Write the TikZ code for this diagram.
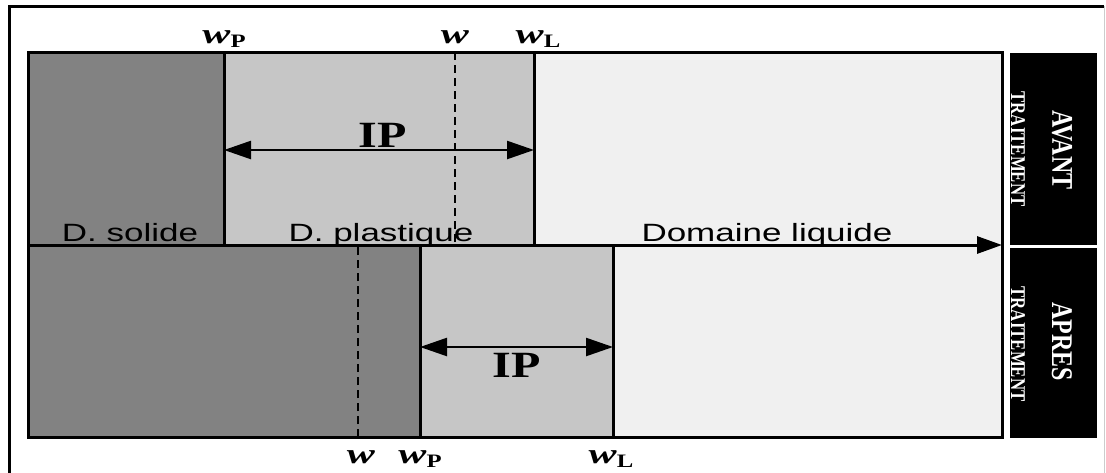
\documentclass[tikz,border=0pt]{standalone}
\usepackage{fontspec}
\usetikzlibrary{arrows.meta}
\newfontfamily\sansf[FakeStretch=1.4]{Liberation Sans}
\newfontfamily\serf[FakeStretch=1.3]{Liberation Serif}
\newfontfamily\wf[FakeStretch=1.5]{Liberation Serif}
\newfontfamily\rotf[FakeStretch=0.8]{Liberation Serif}
\definecolor{solide}{HTML}{828282}
\definecolor{plast}{HTML}{C6C6C6}
\definecolor{liq}{HTML}{F0F0F0}
\newcommand{\wlab}[1]{{\wf\fontsize{28}{30}\selectfont\textbf{\textit{w}}}\raisebox{-4pt}{\serf\fontsize{19}{21}\selectfont\textbf{#1}}}

\begin{document}
\begin{tikzpicture}[x=1pt,y=-1pt,
  bord/.style={line width=3pt},
  teneur/.style={line width=2.6pt, dash pattern=on 8pt off 5pt},
  ipfl/.style={line width=2.4pt,{Triangle[length=27pt,width=18pt]}-{Triangle[length=27pt,width=18pt]}},
  dom/.style={font=\sansf\fontsize{25}{28}\selectfont, anchor=base, inner sep=0pt},
  wtxt/.style={anchor=base, inner sep=0pt},
  iptxt/.style={font=\serf\bfseries\fontsize{37}{40}\selectfont, anchor=base, inner sep=0pt},
  rot/.style={rotate=-90, text=white, inner sep=0pt}]
  \useasboundingbox (0,0) rectangle (1106,472);
  % cadre
  \draw[line width=3pt] (9,490) -- (9,6) -- (1104,6);
  \draw[gray!40, line width=1pt] (1104,6) -- (1104,490);

  % avant traitement
  \fill[solide] (28,52) rectangle (224,245);
  \fill[plast] (224,52) rectangle (534,245);
  \fill[liq] (534,52) rectangle (1002,245);
  % apres traitement
  \fill[solide] (28,245) rectangle (420,437);
  \fill[plast] (420,245) rectangle (613,437);
  \fill[liq] (613,245) rectangle (1002,437);

  \coordinate (wp1) at (224,52);
  \coordinate (wl1) at (534,52);
  \coordinate (w1) at (455,52);
  \coordinate (wp2) at (420,437);
  \coordinate (wl2) at (613,437);
  \coordinate (w2) at (358,437);
  \coordinate (d0) at (28,245);
  \coordinate (d1) at (1002,245);

  \draw[bord] (28,52) rectangle (1002,437);
  \draw[bord] (wp1) -- (wp1 |- d0);
  \draw[bord] (wl1) -- (wl1 |- d0);
  \draw[bord] (wp2) -- (wp2 |- d0);
  \draw[bord] (wl2) -- (wl2 |- d0);
  \draw[teneur] (w1) -- (w1 |- d0);
  \draw[teneur] (w2) -- (w2 |- d0);
  \draw[bord, -{Triangle[length=25pt,width=17pt]}] (d0) -- (d1);

  % indices de plasticite
  \coordinate (ipA) at (224,150);
  \coordinate (ipB) at (534,150);
  \coordinate (ipC) at (420,347);
  \coordinate (ipD) at (613,347);
  \draw[ipfl] (ipA) -- (ipB);
  \draw[ipfl] (ipC) -- (ipD);
  \node[iptxt] (ip1) at (383,147) {IP};
  \node[iptxt] (ip2) at (517,377) {IP};

  % domaines
  \node[dom] (solide) at (130,241) {D. solide};
  \node[dom] (plastique) at (381,241) {D. plastique};
  \node[dom] (liquide) at (767,241) {Domaine liquide};

  % teneurs en eau
  \node[wtxt] (lwp1) at (224,43) {\wlab{P}};
  \node[wtxt] (lw1) at (455,43) {\wlab{}};
  \node[wtxt] (lwl1) at (538,43) {\wlab{L}};
  \node[wtxt] (lw2) at (361,463) {\wlab{}};
  \node[wtxt] (lwp2) at (420,463) {\wlab{P}};
  \node[wtxt] (lwl2) at (611,463) {\wlab{L}};

  % etiquettes
  \fill[black] (1010,53) rectangle (1097,245);
  \fill[black] (1010,248) rectangle (1097,438);
  \node[rot, font=\rotf\bfseries\fontsize{30}{32}\selectfont] (avant) at (1062,150) {AVANT};
  \node[rot, font=\rotf\bfseries\fontsize{21}{23}\selectfont] (avantT) at (1018,149) {TRAITEMENT};
  \node[rot, font=\rotf\bfseries\fontsize{30}{32}\selectfont] (apres) at (1062,342) {APRES};
  \node[rot, font=\rotf\bfseries\fontsize{21}{23}\selectfont] (apresT) at (1018,344) {TRAITEMENT};
\end{tikzpicture}
\end{document}
